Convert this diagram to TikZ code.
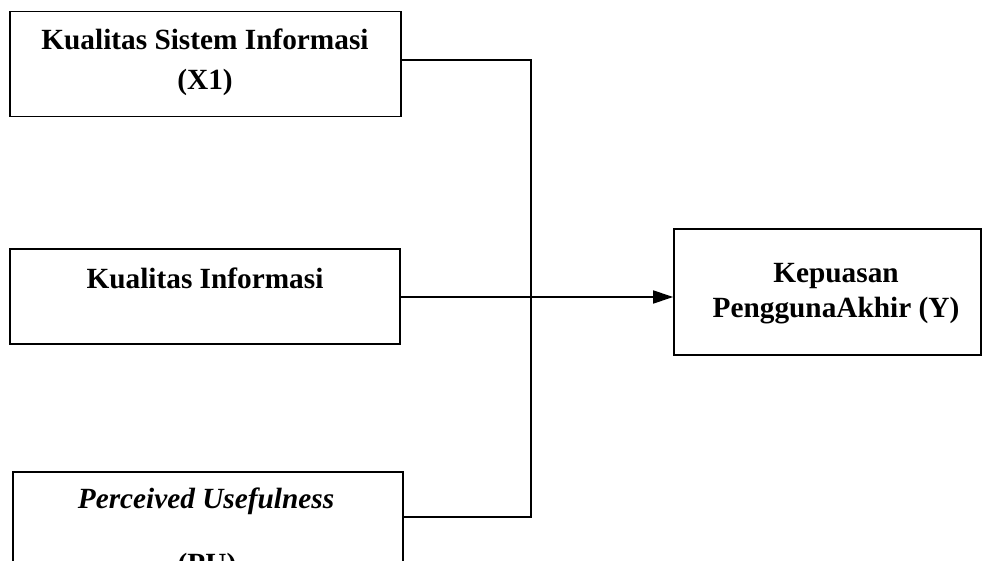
\documentclass[tikz,border=0pt]{standalone}
\usepackage{fontspec}
\setmainfont{Liberation Serif}
\usetikzlibrary{arrows.meta}
\begin{document}
\begin{tikzpicture}[x=1pt,y=-1pt,
  box/.style={draw,line width=1.6pt,minimum width=#1,inner sep=0pt},
  lbl/.style={anchor=base,font=\fontsize{29.3}{33}\selectfont\bfseries,inner sep=0pt},
  conn/.style={line width=1.5pt}]
\useasboundingbox (0,0) rectangle (982,561);
\clip (0,0) rectangle (982,561);
\node[box=391pt,minimum height=105pt] (b1) at (205.5,64) {};
\node[box=390pt,minimum height=95pt] (b2) at (205,296.5) {};
\node[box=390pt,minimum height=148pt] (b3) at (208,546) {};
\node[box=307pt,minimum height=126pt] (by) at (827.5,292) {};
\node[lbl] (t1a) at (205,50) {Kualitas Sistem Informasi};
\node[lbl] (t1b) at (205,90) {(X1)};
\node[lbl] (t2) at (205,288) {Kualitas Informasi};
\node[lbl,font=\fontsize{29.3}{33}\selectfont\bfseries\itshape] (t3a) at (206,508) {Perceived Usefulness};
\node[lbl] (t3b) at (207,573) {(PU)};
\node[lbl] (tya) at (836,283) {Kepuasan};
\node[lbl] (tyb) at (836,317) {PenggunaAkhir (Y)};
\coordinate (top) at (531,60);
\coordinate (bot) at (531,517);
\draw[conn] ([yshift=4pt]b1.east) -- (top) -- (bot) -- ([yshift=29pt]b3.east);
\draw[conn,-{Triangle[length=20pt,width=13pt]}] ([yshift=-0.5pt]b2.east) -- ([yshift=-0.5pt]b2.east -| by.west);
\end{tikzpicture}
\end{document}
